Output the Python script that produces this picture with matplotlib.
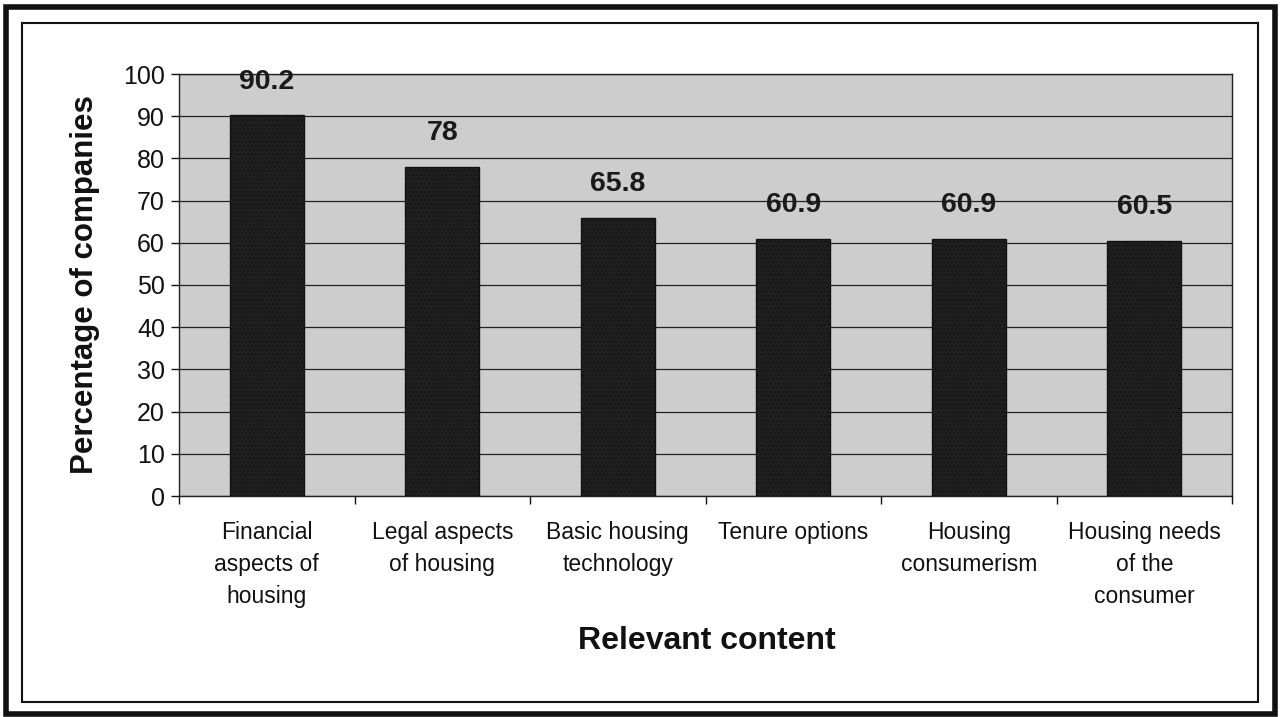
import matplotlib.pyplot as plt
from matplotlib.patches import Rectangle
import numpy as np

plt.rcParams['font.family'] = ['Liberation Sans', 'DejaVu Sans']
plt.rcParams['hatch.color'] = '#3a3a3a'
plt.rcParams['hatch.linewidth'] = 0.6

categories = ['Financial\naspects of\nhousing', 'Legal aspects\nof housing',
              'Basic housing\ntechnology', 'Tenure options',
              'Housing\nconsumerism', 'Housing needs\nof the\nconsumer']
values = [90.2, 78, 65.8, 60.9, 60.9, 60.5]
value_labels = ['90.2', '78', '65.8', '60.9', '60.9', '60.5']
yticks = list(range(0, 101, 10))

W, H = 1282, 717
fig = plt.figure(figsize=(W / 100, H / 100), dpi=100)

# outer and inner frames
fig.patches.append(Rectangle((6 / W, 1 - 714 / H), 1269 / W, 707 / H, transform=fig.transFigure,
                             fill=False, lw=4, ec='#111111'))
fig.patches.append(Rectangle((22 / W, 1 - 702 / H), 1236 / W, 679 / H, transform=fig.transFigure,
                             fill=False, lw=1.5, ec='#111111'))

ax = fig.add_axes([179 / W, 1 - 496 / H, (1232 - 179) / W, (496 - 74) / H])
ax.set_facecolor('#cdcdcd')
x = np.arange(len(categories))
ax.bar(x, values, width=0.42, color='#1e1f1e', edgecolor='#111111', lw=1, zorder=3,
       hatch='....')

for xi, v, lab in zip(x, values, value_labels):
    ax.annotate(lab, (xi, v), xytext=(0, 15), textcoords='offset points', ha='center', va='bottom',
                fontsize=20.5, fontweight='bold', color='#1a1a1a', zorder=4)

ax.set_xlim(-0.5, len(categories) - 0.5)
ax.set_ylim(0, 100)
ax.set_yticks(yticks)
ax.yaxis.grid(True, color='#222222', lw=0.9, zorder=1)
ax.set_axisbelow(True)
ax.tick_params(axis='y', labelsize=18, length=6, width=1, pad=4, colors='#111111')
ax.set_xticks(x)
ax.set_xticklabels(categories, fontsize=16.5, linespacing=1.5, color='#111111')
ax.set_xticks(np.arange(len(categories) + 1) - 0.5, minor=True)
ax.tick_params(axis='x', which='major', length=0, pad=18)
ax.tick_params(axis='x', which='minor', length=6, width=1, color='#111111')
for s in ax.spines.values():
    s.set_color('#222222')
    s.set_linewidth(1)

ax.set_ylabel('Percentage of companies', fontsize=22.5, fontweight='bold', labelpad=17,
              color='#111111')
fig.text(707 / W, 1 - 641 / H, 'Relevant content', ha='center', va='center',
         fontsize=23, fontweight='bold', color='#111111')

fig.savefig('out.png', dpi=100)
